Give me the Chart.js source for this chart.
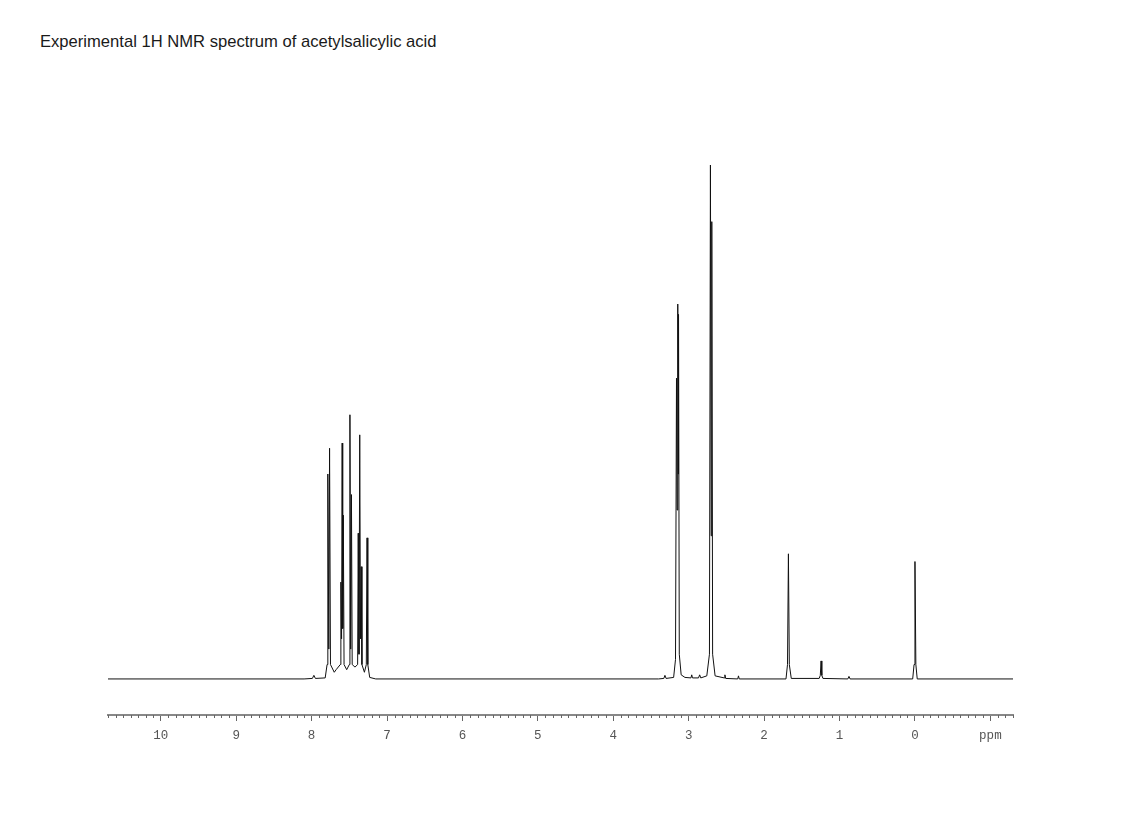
<!DOCTYPE html>
<html>
<head>
<meta charset="utf-8">
<script src="https://cdn.jsdelivr.net/npm/chart.js@4"></script>
<style>
  body { margin: 0; background: #fff; }
  #title {
    position: absolute; left: 40px; top: 32px;
    font: 16.6px "Liberation Sans", Arial, sans-serif; color: #1a1a1a;
  }
  #MyChart { position: absolute; left: 0; top: 0; }
</style>
</head>
<body>
<div id="title">Experimental 1H NMR spectrum of acetylsalicylic acid</div>
<canvas id="MyChart" width="1139" height="815"></canvas>
<script>
// chemical shift (ppm) and intensity, high to low ppm
const shifts = [
    10.70, 8.10, 7.99, 7.97, 7.95, 7.82,
    7.795, 7.785, 7.772, 7.762, 7.750, 7.70, 7.675,
    7.62, 7.612, 7.603, 7.595, 7.588, 7.580, 7.570, 7.535,
    7.50, 7.492, 7.482, 7.472, 7.462, 7.425,
    7.39, 7.382, 7.372, 7.362, 7.352, 7.343, 7.333, 7.30,
    7.275, 7.265, 7.255, 7.23, 7.15,
    3.40, 3.33, 3.315, 3.30, 3.20,
    3.175, 3.162, 3.154, 3.145, 3.140, 3.135, 3.125, 3.10, 3.05,
    2.97, 2.96, 2.95, 2.87, 2.855, 2.84, 2.76,
    2.725, 2.712, 2.702, 2.694, 2.683, 2.65,
    2.53, 2.52, 2.51, 2.35, 2.34, 2.33,
    1.71, 1.69, 1.678, 1.666, 1.64,
    1.27, 1.255, 1.245, 1.235, 1.22,
    0.89, 0.875, 0.86,
    0.03, 0.012, 0.0, -0.012, -0.03, -1.30
];
const intensity = [
    0.2, 0.2, 0.3, 0.9, 0.3, 0.4,
    3, 40, 6, 45, 3, 1.5, 2,
    3, 19, 8, 46, 10, 32, 3, 2,
    3, 51.5, 6, 36, 3, 2.5,
    3, 28.5, 5, 47.6, 8, 22, 3, 1.5,
    3, 27.6, 3, 0.5, 0.2,
    0.2, 0.3, 0.9, 0.3, 0.5,
    4, 58.6, 33, 73, 40, 71, 5, 1, 0.5,
    0.4, 1, 0.4, 0.4, 1, 0.4, 0.8,
    5, 100, 28, 89, 5, 0.8,
    0.4, 1, 0.3, 0.2, 0.8, 0.2,
    0.2, 3, 24.5, 3, 0.3,
    0.3, 0.9, 3.7, 0.9, 0.3,
    0.2, 0.7, 0.2,
    0.2, 3, 23, 3, 0.2, 0.2
];
// labelled axis ticks (ppm); the -1 position carries the unit
const tickValues = [10, 9, 8, 7, 6, 5, 4, 3, 2, 1, 0, -1];
const ppmMin = -1.3;
const ppmMax = 10.7;

const points = shifts.map((s, i) => ({ x: s, y: intensity[i] }));

// short minor ticks every 0.1 ppm under the axis line
const minorTicks = {
    id: "minorTicks",
    afterDraw(chart) {
        const s = chart.scales.x;
        const c = chart.ctx;
        c.save();
        c.strokeStyle = "#666";
        c.lineWidth = 1;
        for (let i = Math.round(ppmMin * 10); i <= Math.round(ppmMax * 10); i++) {
            if (i % 10 === 0) continue;
            const px = Math.round(s.getPixelForValue(i / 10)) + 0.5;
            c.beginPath();
            c.moveTo(px, s.top);
            c.lineTo(px, s.top + 3);
            c.stroke();
        }
        c.restore();
    }
};

const ctx = document.getElementById("MyChart").getContext("2d");

new Chart(ctx, {
    type: "line",
    data: {
        datasets: [
            {
                label: "1H NMR",
                data: points,
                borderColor: "#111",
                borderWidth: 1,
                pointRadius: 0,
                tension: 0,
                fill: false
            }
        ]
    },
    options: {
        responsive: false,
        animation: false,
        devicePixelRatio: 1,
        layout: { padding: { left: 108, right: 126, top: 165, bottom: 65 } },
        plugins: { legend: { display: false }, tooltip: { enabled: false } },
        scales: {
            x: {
                type: "linear",
                reverse: true,
                min: ppmMin,
                max: ppmMax,
                afterBuildTicks: scale => {
                    scale.ticks = tickValues.map(v => ({ value: v }));
                },
                border: { display: true, color: "#888", width: 2 },
                grid: { drawOnChartArea: false, tickLength: 6, color: "#666" },
                ticks: {
                    autoSkip: false,
                    maxRotation: 0,
                    padding: 7,
                    color: "#555",
                    font: { family: "Liberation Mono", size: 12.5 },
                    callback: v => (v === -1 ? "ppm" : String(v))
                }
            },
            y: {
                display: false,
                min: -6.8,
                max: 100
            }
        }
    },
    plugins: [minorTicks]
});
</script>
</body>
</html>
